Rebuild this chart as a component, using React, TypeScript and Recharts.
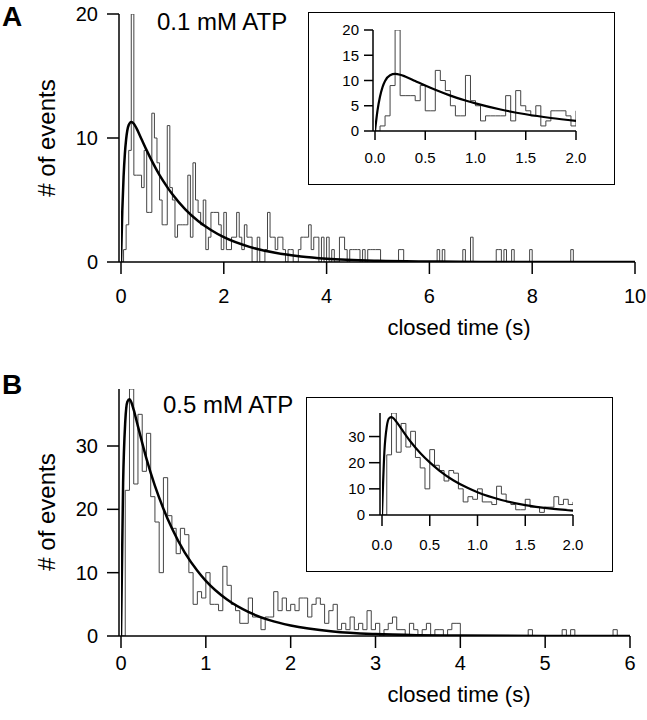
import React from 'react';
import { LineChart, Line, XAxis, YAxis } from 'recharts';

const BIN = 0.05;

// closed-time histograms, events per 0.05 s bin starting at 0 s
const countsA = [
  0, 1, 3, 9, 20, 7, 7, 7, 6, 9, 4, 4, 12, 10, 8, 5, 3, 3, 11, 6,
  5, 2, 3, 3, 3, 3, 7, 2, 8, 5, 4, 3, 5, 1, 2, 4, 4, 4, 3, 1,
  4, 1, 1, 2, 2, 4, 2, 1, 3, 2, 2, 0, 0, 2, 0, 0, 1, 4, 2, 2,
  1, 2, 2, 1, 0, 1, 1, 0, 0, 1, 2, 2, 2, 3, 1, 2, 2, 0, 2, 0,
  2, 0, 1, 0, 0, 2, 2, 1, 0, 1, 1, 1, 1, 0, 1, 0, 1, 1, 1, 1,
  1, 0, 0, 0, 0, 0, 0, 0, 1, 1, 0, 0, 0, 0, 0, 0, 0, 0, 0, 0,
  0, 0, 0, 1, 0, 1, 0, 0, 0, 0, 0, 0, 0, 1, 0, 0, 2, 0, 0, 0,
  0, 0, 0, 0, 0, 0, 1, 1, 0, 1, 0, 0, 1, 0, 0, 0, 0, 0, 0, 1,
  0, 0, 0, 0, 0, 0, 0, 0, 0, 0, 0, 0, 0, 0, 0, 1, 0, 0, 0, 0,
];

const countsB = [
  0, 23, 39, 24, 35, 26, 32, 22, 18, 10, 25, 19, 17, 13, 17, 16, 10, 5, 7, 6,
  10, 5, 5, 4, 11, 8, 5, 4, 2, 2, 6, 3, 3, 1, 3, 3, 7, 4, 6, 4,
  5, 4, 6, 6, 3, 5, 6, 5, 2, 4, 5, 1, 2, 1, 3, 1, 2, 1, 4, 1,
  2, 0, 1, 2, 3, 1, 1, 0, 2, 1, 0, 1, 2, 0, 1, 1, 0, 1, 2, 2,
  0, 0, 0, 0, 0, 0, 0, 0, 0, 0, 0, 0, 0, 0, 0, 0, 1, 0, 0, 0,
  0, 0, 0, 0, 1, 0, 1, 0, 0, 0, 0, 0, 0, 0, 0, 0, 1, 0, 0, 0,
];

// fitted curves
const fitTimesA = [0, 0.025, 0.05, 0.075, 0.1, 0.15, 0.2, 0.25, 0.3, 0.4, 0.5, 0.6, 0.75, 0.9, 1.0, 1.25, 1.5, 1.75, 2.0, 2.5, 3, 3.5, 4, 5, 6, 7, 8, 10];
const fitValuesA = [0, 4.1, 6.85, 8.7, 9.9, 11.05, 11.3, 11.15, 10.8, 9.9, 9.0, 8.15, 7.0, 6.04, 5.46, 4.25, 3.31, 2.58, 2.0, 1.22, 0.74, 0.45, 0.27, 0.1, 0.04, 0.01, 0, 0];

const fitTimesB = [0, 0.025, 0.05, 0.075, 0.1, 0.125, 0.15, 0.2, 0.3, 0.4, 0.5, 0.6, 0.75, 0.9, 1.0, 1.25, 1.5, 1.75, 2.0, 2.5, 3, 3.5, 4, 5, 6];
const fitValuesB = [0, 24.2, 33.8, 37.0, 37.4, 36.8, 35.7, 33.1, 28.0, 23.7, 20.1, 17.0, 13.2, 10.3, 8.7, 5.75, 3.8, 2.5, 1.65, 0.72, 0.31, 0.13, 0.06, 0.01, 0];

const xTicksA = [0, 2, 4, 6, 8, 10];
const xTicksB = [0, 1, 2, 3, 4, 5, 6];
const yTicksA = [0, 10, 20];
const yTicksB = [0, 10, 20, 30];
const insetXTicks = [0, 0.5, 1, 1.5, 2];
const insetYTicksA = [0, 5, 10, 15, 20];
const insetYTicksB = [0, 10, 20, 30];

const FONT = '"Liberation Sans", Arial, Helvetica, sans-serif';

type Pt = { x: number; y: number };

function steps(counts: number[], end: number): Pt[] {
  const pts = counts.map((c, i) => ({ x: +(i * BIN).toFixed(3), y: c }));
  const last = +(counts.length * BIN).toFixed(3);
  pts.push({ x: last, y: 0 });
  if (end > last) pts.push({ x: end, y: 0 });
  return pts;
}

function clip(pts: Pt[], xmax: number): Pt[] {
  const inside = pts.filter((p) => p.x < xmax - 1e-9);
  const next = pts.find((p) => p.x >= xmax - 1e-9);
  inside.push({ x: xmax, y: next ? next.y : 0 });
  return inside;
}

function fit(times: number[], values: number[], xmax = Infinity): Pt[] {
  return times.map((t, i) => ({ x: t, y: values[i] })).filter((p) => p.x <= xmax);
}

type PlotProps = {
  left: number; top: number; width: number; height: number;
  mTop: number; mRight: number; yWidth: number; xHeight: number;
  xDomain: [number, number]; yDomain: [number, number];
  xTicks: number[]; yTicks: number[];
  hist: Pt[]; curve: Pt[];
  fontSize: number; tickSize: number; xTickMargin: number; yTickMargin: number;
  fmt?: (v: number) => string; curveWidth: number;
};

const Plot: React.FC<PlotProps> = (p) => {
  const tick = { fill: '#000', fontSize: p.fontSize, fontFamily: FONT };
  const axis = { stroke: '#000', strokeWidth: 1.5 };
  return (
    <div style={{ position: 'absolute', left: p.left, top: p.top }}>
      <LineChart width={p.width} height={p.height} margin={{ top: p.mTop, right: p.mRight, left: 0, bottom: 0 }}>
        <XAxis
          type="number" dataKey="x" domain={p.xDomain} ticks={p.xTicks} allowDataOverflow
          padding={{ left: 2, right: 0 }} height={p.xHeight} interval={0}
          tickSize={p.tickSize} tickMargin={p.xTickMargin} tick={tick}
          axisLine={axis} tickLine={axis} tickFormatter={p.fmt}
        />
        <YAxis
          type="number" domain={p.yDomain} ticks={p.yTicks} allowDataOverflow width={p.yWidth} interval={0}
          tickSize={p.tickSize} tickMargin={p.yTickMargin} tick={tick}
          axisLine={axis} tickLine={axis}
        />
        <Line data={p.hist} dataKey="y" type="stepAfter" stroke="#444" strokeWidth={1} dot={false} activeDot={false} isAnimationActive={false} />
        <Line data={p.curve} dataKey="y" type="monotone" stroke="#000" strokeWidth={p.curveWidth} dot={false} activeDot={false} isAnimationActive={false} />
      </LineChart>
    </div>
  );
};

const txt = (extra: React.CSSProperties): React.CSSProperties => ({
  position: 'absolute', fontFamily: FONT, color: '#000', lineHeight: 1, whiteSpace: 'nowrap', ...extra,
});

const App: React.FC = () => {
  const histA = steps(countsA, 10);
  const histB = steps(countsB, 6);
  const fmt1 = (v: number) => v.toFixed(1);
  return (
    <div style={{ position: 'absolute', left: 0, top: 0, width: 647, height: 720, background: '#fff', overflow: 'hidden' }}>
      {/* panel A */}
      <Plot left={0} top={0} width={647} height={340} mTop={14} mRight={12} yWidth={119} xHeight={78}
        xDomain={[0, 10]} yDomain={[0, 20]} xTicks={xTicksA} yTicks={yTicksA}
        hist={histA} curve={fit(fitTimesA, fitValuesA)}
        fontSize={20} tickSize={12} xTickMargin={15} yTickMargin={9} curveWidth={2.5} />
      <div style={{ position: 'absolute', left: 308, top: 12, width: 305, height: 171, border: '1.5px solid #000', background: '#fff' }} />
      <Plot left={300} top={12} width={300} height={160} mTop={18} mRight={24} yWidth={73} xHeight={41}
        xDomain={[0, 2]} yDomain={[0, 20]} xTicks={insetXTicks} yTicks={insetYTicksA}
        hist={clip(histA, 2)} curve={fit(fitTimesA, fitValuesA, 2)} fmt={fmt1}
        fontSize={15} tickSize={9} xTickMargin={12} yTickMargin={5} curveWidth={2.2} />
      <div style={txt({ left: 2, top: 3, fontSize: 28, fontWeight: 'bold' })}>A</div>
      <div style={txt({ left: 157, top: 10, fontSize: 24 })}>0.1 mM ATP</div>
      <div style={txt({ left: 47, top: 138, fontSize: 24, transform: 'translate(-50%, -50%) rotate(-90deg)' })}># of events</div>
      <div style={txt({ left: 459, top: 328, fontSize: 22, transform: 'translate(-50%, -50%)' })}>closed time (s)</div>

      {/* panel B */}
      <Plot left={0} top={370} width={647} height={350} mTop={19} mRight={17} yWidth={119} xHeight={84}
        xDomain={[0, 6]} yDomain={[0, 39]} xTicks={xTicksB} yTicks={yTicksB}
        hist={histB} curve={fit(fitTimesB, fitValuesB)}
        fontSize={20} tickSize={12} xTickMargin={8} yTickMargin={9} curveWidth={2.5} />
      <div style={{ position: 'absolute', left: 306, top: 397, width: 305, height: 173, border: '1.5px solid #000', background: '#fff' }} />
      <Plot left={306} top={397} width={300} height={165} mTop={16} mRight={33} yWidth={74} xHeight={47}
        xDomain={[0, 2]} yDomain={[0, 39]} xTicks={insetXTicks} yTicks={insetYTicksB}
        hist={clip(histB, 2)} curve={fit(fitTimesB, fitValuesB, 2)} fmt={fmt1}
        fontSize={15} tickSize={11} xTickMargin={13} yTickMargin={4} curveWidth={2.2} />
      <div style={txt({ left: 2, top: 371, fontSize: 28, fontWeight: 'bold' })}>B</div>
      <div style={txt({ left: 163, top: 393, fontSize: 24 })}>0.5 mM ATP</div>
      <div style={txt({ left: 47, top: 512, fontSize: 24, transform: 'translate(-50%, -50%) rotate(-90deg)' })}># of events</div>
      <div style={txt({ left: 459, top: 695, fontSize: 22, transform: 'translate(-50%, -50%)' })}>closed time (s)</div>
    </div>
  );
};

export default App;
